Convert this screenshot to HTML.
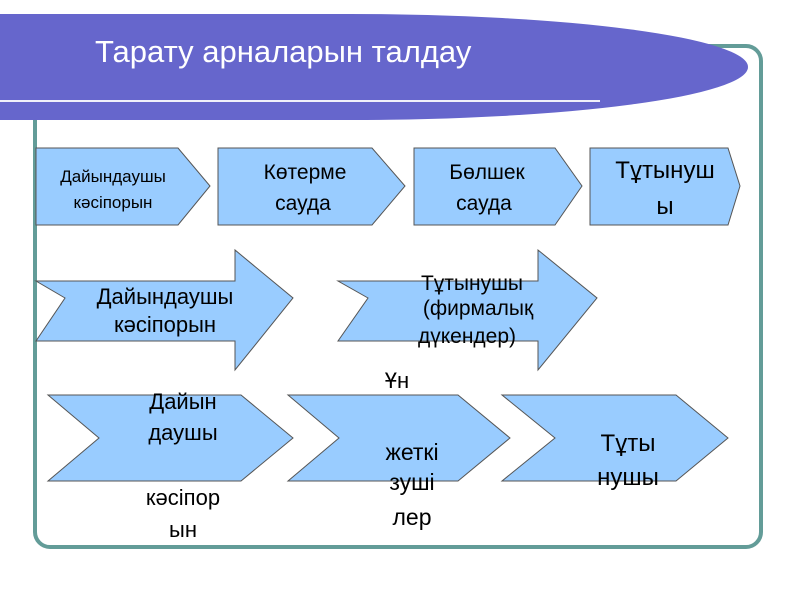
<!DOCTYPE html>
<html><head><meta charset="utf-8"><style>
html,body{margin:0;padding:0;background:#fff;}
body{width:800px;height:600px;overflow:hidden;position:relative;font-family:"Liberation Sans",sans-serif;}
</style></head><body>
<svg width="800" height="600" xmlns="http://www.w3.org/2000/svg" style="position:absolute;left:0;top:0">
<rect x="35" y="46" width="726" height="501" rx="15" ry="15" fill="none" stroke="#639c98" stroke-width="4"/>
<path d="M0,14 H350 A398,53 0 0 1 350,120 H0 Z" fill="#6666cc"/>
<line x1="0" y1="101" x2="600" y2="101" stroke="#ffffff" stroke-width="2" opacity="0.9"/>
<text x="95" y="62" font-size="31" fill="#fff" font-family="Liberation Sans, sans-serif">Тарату арналарын талдау</text>
<g fill="#99ccff" stroke="#555" stroke-width="1">
<polygon points="36,148 178,148 210,186 178,225 36,225"/>
<polygon points="218,148 372,148 405,186 372,225 218,225"/>
<polygon points="414,148 555,148 582,186 555,225 414,225"/>
<polygon points="590,148 728,148 740,186 728,225 590,225"/>
<polygon points="36,281 235,281 235,250 293,298 235,370 235,341 36,341 65,298"/>
<polygon points="338,281 538,281 538,250 597,298 538,370 538,341 338,341 368,298"/>
<polygon points="48,395 241,395 293,438 241,481 48,481 99,438"/>
<polygon points="288,395 458,395 510,438 458,481 288,481 339,438"/>
<polygon points="502,395 676,395 728,438 676,481 502,481 555,438"/>
</g>
<g font-family="Liberation Sans, sans-serif" fill="#000" text-anchor="middle">
<text x="113" y="182" font-size="17">Дайындаушы</text>
<text x="113" y="208" font-size="17">кәсіпорын</text>
<text x="305" y="179" font-size="21">Көтерме</text>
<text x="303" y="210" font-size="21">сауда</text>
<text x="487" y="179" font-size="21">Бөлшек</text>
<text x="484" y="210" font-size="21">сауда</text>
<text x="665" y="178" font-size="24">Тұтынуш</text>
<text x="665" y="214" font-size="24">ы</text>
<text x="165" y="304" font-size="22">Дайындаушы</text>
<text x="165" y="332" font-size="22">кәсіпорын</text>
<text x="472" y="290" font-size="21">Тұтынушы</text>
<text x="478" y="315" font-size="21">(фирмалық</text>
<text x="467" y="343" font-size="21">дүкендер)</text>
<text x="183" y="409" font-size="22">Дайын</text>
<text x="183" y="440" font-size="22">даушы</text>
<text x="183" y="505" font-size="22">кәсіпор</text>
<text x="183" y="537" font-size="22">ын</text>
<text x="397" y="388" font-size="22">Ұн</text>
<text x="412" y="460" font-size="23">жеткі</text>
<text x="412" y="490" font-size="23">зуші</text>
<text x="412" y="525" font-size="23">лер</text>
<text x="628" y="451" font-size="24">Тұты</text>
<text x="628" y="485" font-size="24">нушы</text>
</g>
</svg>
</body></html>
